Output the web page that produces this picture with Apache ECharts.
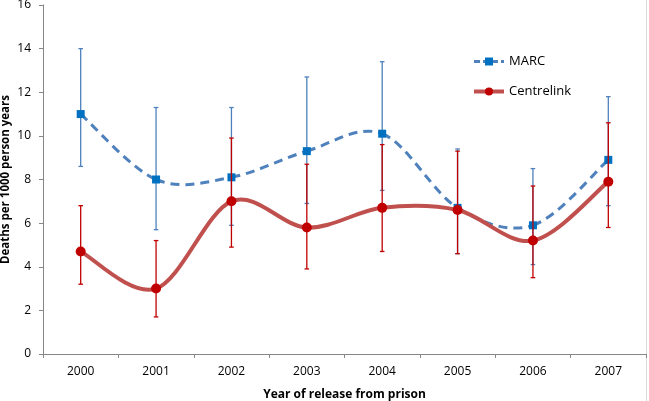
<!DOCTYPE html>
<html>
<head>
<meta charset="utf-8">
<script src="https://cdn.jsdelivr.net/npm/echarts@6/dist/echarts.min.js"></script>
<style>html,body{margin:0;padding:0;background:#fff;}#c{width:649px;height:401px;}</style>
</head>
<body>
<div id="c"></div>
<script>
var years = ['2000','2001','2002','2003','2004','2005','2006','2007'];
var marcValues = [11.0, 8.0, 8.1, 9.3, 10.1, 6.7, 5.9, 8.9];
var marcLow    = [8.6, 5.7, 5.9, 6.9, 7.5, 4.6, 4.1, 6.8];
var marcHigh   = [14.0, 11.3, 11.3, 12.7, 13.4, 9.4, 8.5, 11.8];
var centValues = [4.7, 3.0, 7.0, 5.8, 6.7, 6.6, 5.2, 7.9];
var centLow    = [3.2, 1.7, 4.9, 3.9, 4.7, 4.6, 3.5, 5.8];
var centHigh   = [6.8, 5.2, 9.9, 8.7, 9.6, 9.3, 7.7, 10.6];
var yTicks = [0, 2, 4, 6, 8, 10, 12, 14, 16];

var FONT = 'Open Sans';
var MARC_LINE = '#4F81BD', MARC_MARK = '#0070C0';
var CENT_LINE = '#C0504D', CENT_MARK = '#C00000';
var chart = echarts.init(document.getElementById('c'), null, {renderer: 'canvas'});

function errSeries(name, low, high, color, z) {
  return {
    type: 'custom',
    name: name + ' err',
    z: z,
    silent: true,
    data: years.map(function (y, i) { return [i, low[i], high[i]]; }),
    encode: {x: 0, y: [1, 2]},
    renderItem: function (params, api) {
      var x = api.value(0);
      var lo = api.coord([x, api.value(1)]);
      var hi = api.coord([x, api.value(2)]);
      var hw = 2.3;
      var st = {stroke: color, lineWidth: 1.3};
      return {
        type: 'group',
        children: [
          {type: 'line', shape: {x1: lo[0], y1: lo[1], x2: hi[0], y2: hi[1]}, style: st},
          {type: 'line', shape: {x1: lo[0] - hw, y1: lo[1], x2: lo[0] + hw, y2: lo[1]}, style: st},
          {type: 'line', shape: {x1: hi[0] - hw, y1: hi[1], x2: hi[0] + hw, y2: hi[1]}, style: st}
        ]
      };
    }
  };
}

// Smooth curve (Excel-like Catmull-Rom Bezier), one segment per item, positioned by the axes.
function curveSeries(name, values, color, width, dash, z) {
  var n = values.length;
  return {
    type: 'custom',
    name: name + ' curve',
    z: z,
    silent: true,
    data: values.slice(0, n - 1).map(function (v, i) { return [i, v]; }),
    encode: {x: 0, y: 1},
    renderItem: function (params, api) {
      var i = params.dataIndex;
      function P(k) { k = Math.max(0, Math.min(n - 1, k)); return api.coord([k, values[k]]); }
      var p0 = P(i - 1), p1 = P(i), p2 = P(i + 1), p3 = P(i + 2);
      var t = 1 / 6;
      return {
        type: 'bezierCurve',
        shape: {
          x1: p1[0], y1: p1[1], x2: p2[0], y2: p2[1],
          cpx1: p1[0] + (p2[0] - p0[0]) * t, cpy1: p1[1] + (p2[1] - p0[1]) * t,
          cpx2: p2[0] - (p3[0] - p1[0]) * t, cpy2: p2[1] - (p3[1] - p1[1]) * t
        },
        style: {stroke: color, lineWidth: width, lineDash: dash, fill: null, lineCap: 'butt'}
      };
    }
  };
}

var option = {
  animation: false,
  backgroundColor: '#ffffff',
  grid: {left: 43, right: 3, top: 5, bottom: 47, containLabel: false, outerBoundsMode: 'none'},
  legend: {
    orient: 'vertical',
    left: 467,
    top: 50,
    itemWidth: 30,
    itemHeight: 10,
    itemGap: 17,
    data: [
      {name: 'MARC', lineStyle: {color: MARC_LINE, width: 3, type: [6, 3], opacity: 1}, itemStyle: {color: MARC_MARK}},
      {name: 'Centrelink', lineStyle: {color: CENT_LINE, width: 4, type: 'solid', opacity: 1}, itemStyle: {color: CENT_MARK}}
    ],
    textStyle: {fontFamily: FONT, fontSize: 13, color: '#000'}
  },
  xAxis: {
    type: 'category',
    data: years,
    boundaryGap: true,
    name: 'Year of release from prison',
    nameLocation: 'middle',
    nameGap: 35,
    nameMoveOverlap: false,
    nameTextStyle: {fontFamily: FONT, fontSize: 12, fontWeight: 'bold', color: '#000'},
    axisLine: {lineStyle: {color: '#868686', width: 1}},
    axisTick: {show: true, length: 4, inside: false, lineStyle: {color: '#868686'}},
    axisLabel: {fontFamily: FONT, fontSize: 12, color: '#000', margin: 12},
    splitLine: {show: false}
  },
  yAxis: {
    type: 'value',
    min: yTicks[0],
    max: yTicks[yTicks.length - 1],
    interval: 2,
    name: 'Deaths per 1000 person years',
    nameLocation: 'middle',
    nameGap: 31,
    nameMoveOverlap: false,
    nameRotate: 90,
    nameTextStyle: {fontFamily: FONT, fontSize: 11.5, fontWeight: 'bold', color: '#000'},
    axisLine: {show: true, lineStyle: {color: '#868686', width: 1}},
    axisTick: {show: true, length: 4, lineStyle: {color: '#868686'}},
    axisLabel: {fontFamily: FONT, fontSize: 12, color: '#000', margin: 12},
    splitLine: {show: false}
  },
  series: [
    errSeries('MARC', marcLow, marcHigh, MARC_LINE, 2),
    curveSeries('MARC', marcValues, MARC_LINE, 3, [9, 6], 3),
    {
      type: 'line',
      name: 'MARC',
      z: 3,
      data: marcValues,
      symbol: 'rect',
      symbolSize: 8,
      lineStyle: {color: MARC_LINE, width: 3, opacity: 0},
      itemStyle: {color: MARC_MARK, borderWidth: 0}
    },
    errSeries('Centrelink', centLow, centHigh, CENT_MARK, 4),
    curveSeries('Centrelink', centValues, CENT_LINE, 4, null, 5),
    {
      type: 'line',
      name: 'Centrelink',
      z: 6,
      data: centValues,
      symbol: 'circle',
      symbolSize: 10,
      lineStyle: {color: CENT_LINE, width: 4, opacity: 0},
      itemStyle: {color: CENT_MARK, borderWidth: 0}
    }
  ],
  graphic: [
    {type: 'line', shape: {x1: 646.5, y1: 0, x2: 646.5, y2: 401}, style: {stroke: '#d9d9d9', lineWidth: 1}}
  ]
};
chart.setOption(option);
</script>
</body>
</html>
